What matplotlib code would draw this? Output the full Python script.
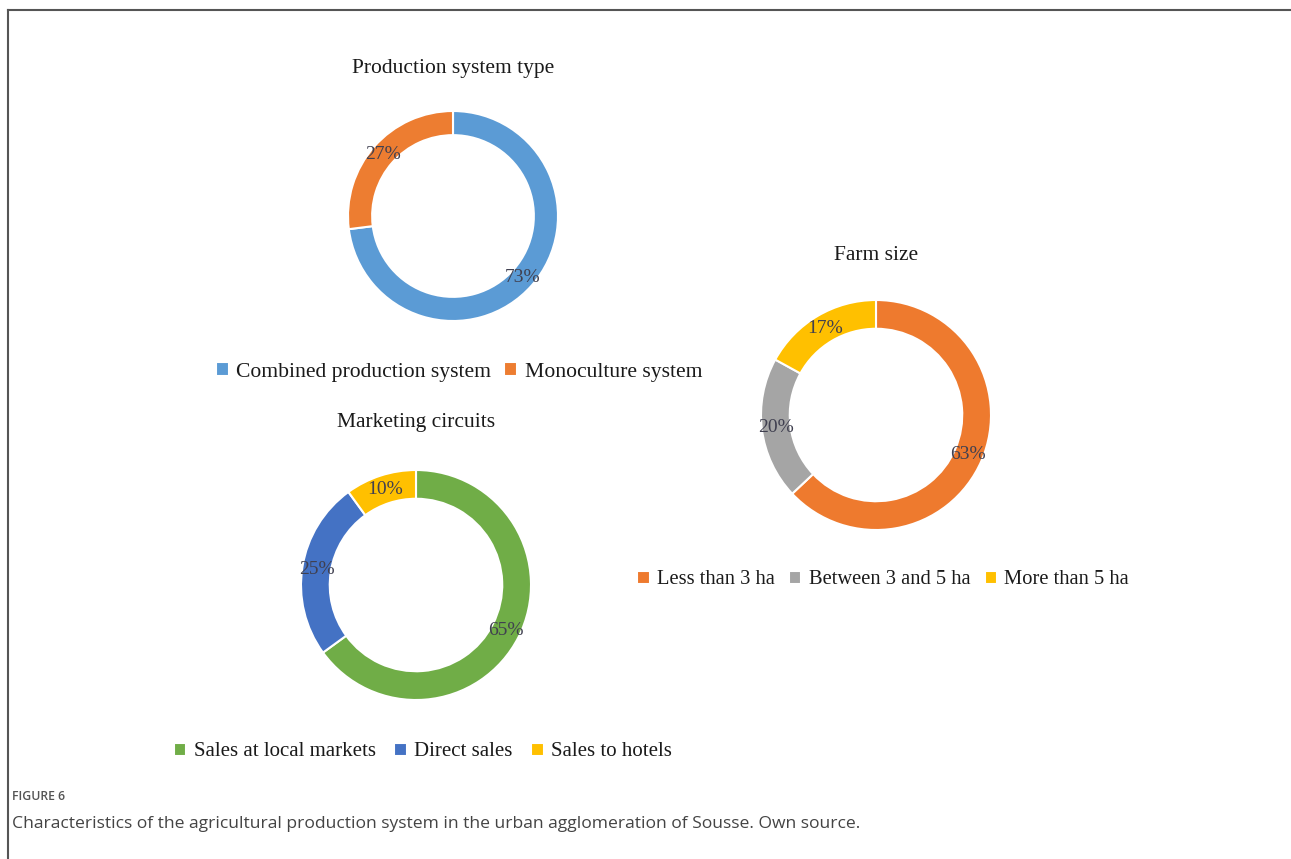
import matplotlib
matplotlib.use("Agg")
import matplotlib.pyplot as plt
from matplotlib.lines import Line2D

W, H = 1291, 859

# ---- data ----
prod_title = "Production system type"
prod_labels = ["Combined production system", "Monoculture system"]
prod_values = [73, 27]
prod_colors = ["#5B9BD5", "#ED7D31"]

farm_title = "Farm size"
farm_labels = ["Less than 3 ha", "Between 3 and 5 ha", "More than 5 ha"]
farm_values = [63, 20, 17]
farm_colors = ["#EE7A2E", "#A5A5A5", "#FFC000"]

mkt_title = "Marketing circuits"
mkt_labels = ["Sales at local markets", "Direct sales", "Sales to hotels"]
mkt_values = [65, 25, 10]
mkt_colors = ["#70AD47", "#4472C4", "#FFC000"]

fig_label = "FIGURE 6"
caption = ("Characteristics of the agricultural production system in the urban "
           "agglomeration of Sousse. Own source.")

SERIF = ["Liberation Serif", "DejaVu Serif"]
fig = plt.figure(figsize=(W / 100, H / 100), dpi=100)
fig.patch.set_facecolor("white")


def fx(px):
    return px / W


def fy(py):
    return 1 - py / H


def donut(cx, cy, r, width, values, colors, labels, title, title_y,
          leg_x, leg_y, colspace, leg_size):
    ax = fig.add_axes([fx(cx - r), fy(cy + r), 2 * r / W, 2 * r / H])
    wedges, _, autotexts = ax.pie(
        values, colors=colors, startangle=90, counterclock=False,
        radius=1, autopct="%.0f%%", pctdistance=1 - width / 2,
        wedgeprops=dict(width=width, edgecolor="white", linewidth=1.5),
        textprops=dict(family=SERIF, fontsize=14, color="#404050"))
    ax.set_xlim(-1, 1)
    ax.set_ylim(-1, 1)
    ax.set_aspect("auto")
    ax.axis("off")
    fig.text(fx(cx), fy(title_y), title, family=SERIF, fontsize=15.5,
             color="#1a1a1a", ha="center", va="center")
    fig.legend(wedges, labels, loc="center", bbox_to_anchor=(fx(leg_x), fy(leg_y)),
               ncol=len(labels), frameon=False, handlelength=0.6,
               handleheight=0.6, handletextpad=0.35, columnspacing=colspace,
               prop=dict(family=SERIF, size=leg_size), labelcolor="#1a1a1a")


donut(453, 216, 105, 0.23, prod_values, prod_colors, prod_labels, prod_title, 68,
      459, 372, 0.6, 15.6)
donut(876, 415, 115, 0.25, farm_values, farm_colors, farm_labels, farm_title, 256,
      883, 580, 0.7, 14.8)
donut(416, 585, 115, 0.25, mkt_values, mkt_colors, mkt_labels, mkt_title, 422,
      423, 752, 0.9, 15.0)

# frame lines
fig.add_artist(Line2D([fx(8), 1.0], [fy(10), fy(10)], color="#555555", lw=1.5))
fig.add_artist(Line2D([fx(8), fx(8)], [fy(10), 0.0], color="#555555", lw=1.5))

fig.text(fx(12), fy(797), fig_label, family=["Open Sans", "DejaVu Sans"],
         fontsize=8.8, color="#555555", ha="left", va="center", weight="semibold")
fig.text(fx(12), fy(824), caption, family=["Open Sans", "DejaVu Sans"],
         fontsize=12.6, color="#444444", ha="left", va="center")

fig.savefig("out.png", dpi=100, facecolor="white")
